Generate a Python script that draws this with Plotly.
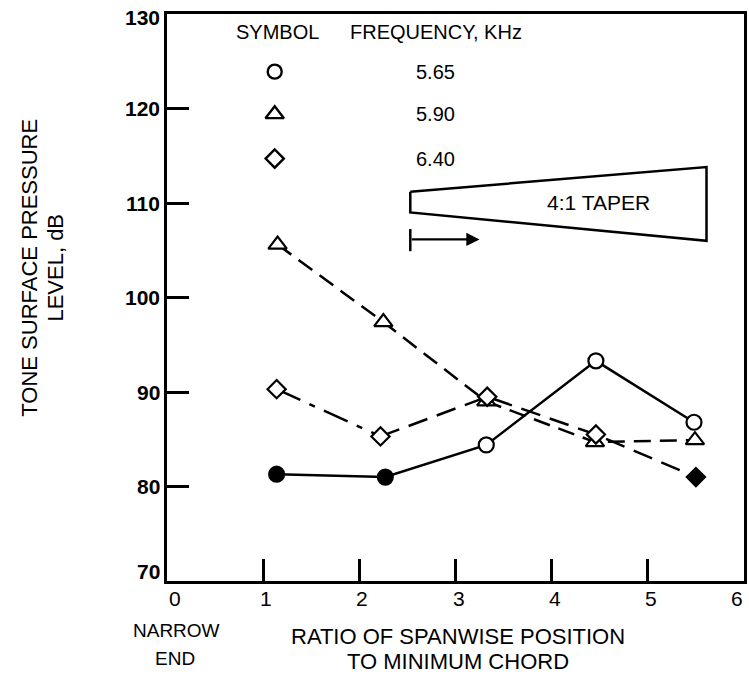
import plotly.graph_objects as go

# ---------------- data ----------------
freq_labels = ["5.65", "5.90", "6.40"]

circle_x = [1.14, 2.27, 3.32, 4.46, 5.48]
circle_y = [81.3, 81.0, 84.4, 93.3, 86.8]
circle_filled = [True, True, False, False, False]

triangle_x = [1.15, 2.25, 3.32, 4.45, 5.49]
triangle_y = [105.6, 97.4, 89.0, 84.7, 84.9]
triangle_filled = [False, False, False, False, False]

diamond_x = [1.14, 2.22, 3.33, 4.46, 5.50]
diamond_y = [90.3, 85.3, 89.5, 85.5, 81.0]
diamond_filled = [False, False, False, False, True]

x_ticks = [0, 1, 2, 3, 4, 5, 6]
y_ticks = [70, 80, 90, 100, 110, 120, 130]

# taper sketch outline (schematic in the chart's upper right)
taper_x = [2.53, 5.61, 5.61, 2.53, 2.53]
taper_y = [111.2, 113.8, 106.0, 109.0, 111.2]

FONT = "Liberation Sans"
BLACK = "black"

FIG_W, FIG_H = 749, 675
M_L, M_R, M_T, M_B = 167, 2, 14, 94
PLOT_W = FIG_W - M_L - M_R
PLOT_H = FIG_H - M_T - M_B
PAGE_X0 = M_L
PAGE_Y1 = M_T + PLOT_H


def px(xp):
    return (xp - PAGE_X0) / PLOT_W


def py(yp):
    return (PAGE_Y1 - yp) / PLOT_H


fig = go.Figure()


def colors(flags):
    return [BLACK if f else "white" for f in flags]


# circle series (solid)
fig.add_trace(go.Scatter(x=circle_x, y=circle_y, mode="lines",
                         line=dict(color=BLACK, width=2.5), hoverinfo="skip"))
# triangle series (dashed)
fig.add_trace(go.Scatter(x=triangle_x, y=triangle_y, mode="lines",
                         line=dict(color=BLACK, width=2.5, dash="17px,9px"), hoverinfo="skip"))
# diamond series: dash-dot for first segment, long dash afterwards
fig.add_trace(go.Scatter(x=diamond_x[0:2], y=diamond_y[0:2], mode="lines",
                         line=dict(color=BLACK, width=2.5, dash="26px,10px,6px,10px"), hoverinfo="skip"))
fig.add_trace(go.Scatter(x=diamond_x[1:], y=diamond_y[1:], mode="lines",
                         line=dict(color=BLACK, width=2.5, dash="20px,10px"), hoverinfo="skip"))

# markers
fig.add_trace(go.Scatter(x=circle_x, y=circle_y, mode="markers",
                         marker=dict(symbol="circle", size=15, color=colors(circle_filled),
                                     line=dict(color=BLACK, width=2.2))))
fig.add_trace(go.Scatter(x=triangle_x, y=triangle_y, mode="markers",
                         marker=dict(symbol="triangle-up", size=16, color=colors(triangle_filled),
                                     line=dict(color=BLACK, width=2.2))))
fig.add_trace(go.Scatter(x=diamond_x, y=diamond_y, mode="markers",
                         marker=dict(symbol="diamond", size=14, color=colors(diamond_filled),
                                     line=dict(color=BLACK, width=2.2))))

# taper outline
fig.add_trace(go.Scatter(x=taper_x, y=taper_y, mode="lines",
                         line=dict(color=BLACK, width=2.5), hoverinfo="skip"))

# key (symbol table)
key_x = 1.12
key_text_x = 2.57
key_rows_y = [123.9, 119.4, 114.7]
key_symbols = ["circle", "triangle-up", "diamond"]
key_sizes = [14, 16, 14]
for sym, sz, yy, lab in zip(key_symbols, key_sizes, key_rows_y, freq_labels):
    fig.add_trace(go.Scatter(x=[key_x], y=[yy], mode="markers",
                             marker=dict(symbol=sym, size=sz, color="white",
                                         line=dict(color=BLACK, width=2.4))))
    fig.add_annotation(x=key_text_x, y=yy, text=lab, showarrow=False, xanchor="left",
                       yanchor="middle", font=dict(family=FONT, size=20, color=BLACK))

fig.add_annotation(x=0.70, y=128.1, text="SYMBOL", showarrow=False, xanchor="left",
                   yanchor="middle", font=dict(family=FONT, size=20, color=BLACK))
fig.add_annotation(x=1.88, y=128.1, text="FREQUENCY, KHz", showarrow=False, xanchor="left",
                   yanchor="middle", font=dict(family=FONT, size=20, color=BLACK))

# taper label and arrow
fig.add_annotation(x=4.49, y=110.1, text="4:1 TAPER", showarrow=False,
                   font=dict(family=FONT, size=21, color=BLACK))
fig.add_annotation(x=3.25, y=106.15, ax=2.53, ay=106.15, axref="x", ayref="y",
                   xref="x", yref="y", text="", showarrow=True,
                   arrowhead=2, arrowsize=1.2, arrowwidth=2.2, arrowcolor=BLACK)
fig.add_shape(type="line", x0=2.53, x1=2.53, y0=104.9, y1=107.25,
              line=dict(color=BLACK, width=2.5))

# tick labels drawn as annotations (end labels nudged inward as in the original)
for t in x_ticks:
    shift = 8 if t == x_ticks[0] else (-7 if t == x_ticks[-1] else 3)
    fig.add_annotation(x=t, xref="x", yref="paper", y=py(599), text=str(t),
                       showarrow=False, xanchor="center", yanchor="middle", xshift=shift,
                       font=dict(family=FONT, size=21, color=BLACK))
for t in y_ticks:
    shift = 10 if t == y_ticks[0] else (-3 if t == y_ticks[-1] else 0)
    fig.add_annotation(x=px(162), xref="paper", yref="y", y=t, text=str(t),
                       showarrow=False, xanchor="right", yanchor="middle", yshift=shift,
                       font=dict(family=FONT, size=21, color=BLACK, weight="bold"))

# axis titles
common = dict(xref="paper", yref="paper", showarrow=False, xanchor="center", yanchor="middle")
fig.add_annotation(x=px(28), y=py(268), text="TONE SURFACE PRESSURE", textangle=-90,
                   font=dict(family=FONT, size=22, color=BLACK), **common)
fig.add_annotation(x=px(54), y=py(268), text="LEVEL, dB", textangle=-90,
                   font=dict(family=FONT, size=22, color=BLACK), **common)
fig.add_annotation(x=px(460), y=py(636), text="RATIO OF SPANWISE POSITION",
                   font=dict(family=FONT, size=22, color=BLACK), **common)
fig.add_annotation(x=px(460), y=py(661), text="TO MINIMUM CHORD",
                   font=dict(family=FONT, size=22, color=BLACK), **common)
fig.add_annotation(x=px(177), y=py(630), text="NARROW",
                   font=dict(family=FONT, size=19, color=BLACK), **common)
fig.add_annotation(x=px(175), y=py(658), text="END",
                   font=dict(family=FONT, size=19, color=BLACK), **common)

fig.update_xaxes(range=[0, 6], tickvals=x_ticks, ticks="inside", ticklen=22, tickwidth=2.5,
                 tickcolor=BLACK, showline=True, linecolor=BLACK, linewidth=2.5, mirror=True,
                 showgrid=False, zeroline=False, showticklabels=False)
fig.update_yaxes(range=[70, 130], tickvals=y_ticks, ticks="inside", ticklen=22, tickwidth=2.5,
                 tickcolor=BLACK, showline=True, linecolor=BLACK, linewidth=2.5, mirror=True,
                 showgrid=False, zeroline=False, showticklabels=False)

fig.update_layout(width=FIG_W, height=FIG_H, showlegend=False,
                  margin=dict(l=M_L, r=M_R, t=M_T, b=M_B),
                  plot_bgcolor="white", paper_bgcolor="white")

# remove the browser's default page margin so the figure fills the window exactly
fig.write_html("out.html", config={"displayModeBar": False},
               post_script="document.body.style.margin='0px';document.body.style.overflow='hidden';")
